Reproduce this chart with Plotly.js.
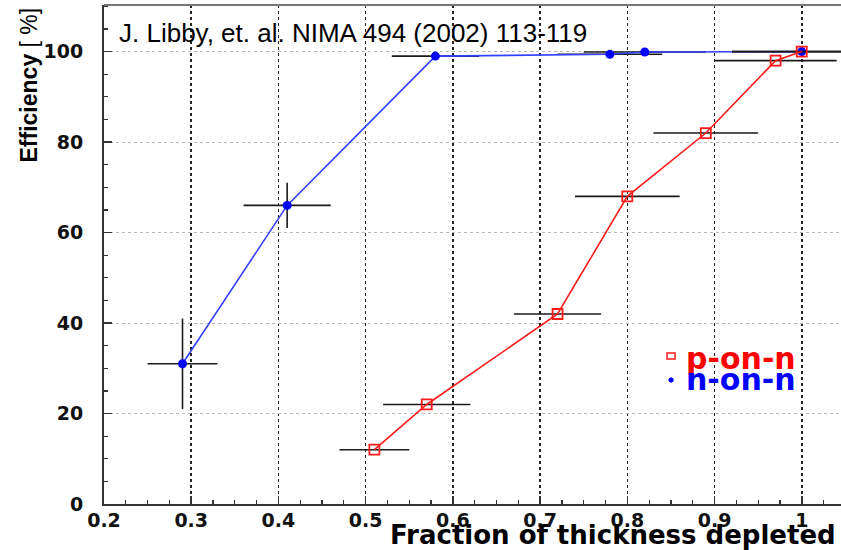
<!DOCTYPE html>
<html>
<head>
<meta charset="utf-8">
<script src="https://cdn.plot.ly/plotly-3.0.1.min.js"></script>
<style>html,body{margin:0;padding:0;background:#fff;}#chart{width:841px;height:550px;}</style>
</head>
<body>
<div id="chart"></div>
<script>
// ---- data ----
const nonnX    = [0.29, 0.41, 0.58, 0.78, 0.82, 1.00];
const nonnY    = [31, 66, 99, 99.4, 99.9, 100];
const nonnXErr = [0.04, 0.05, 0.05, 0.06, 0.07, 0.08];
const nonnYErr = [10, 5, 0, 0, 0, 0];

const ponnX    = [0.51, 0.57, 0.72, 0.80, 0.89, 0.97, 1.00];
const ponnY    = [12, 22, 42, 68, 82, 98, 100];
const ponnXErr = [0.04, 0.05, 0.05, 0.06, 0.06, 0.07, 0.08];

const xTickVals = [0.2, 0.3, 0.4, 0.5, 0.6, 0.7, 0.8, 0.9, 1.0];
const xTickText = ["0.2", "0.3", "0.4", "0.5", "0.6", "0.7", "0.8", "0.9", "1"];
const yTickVals = [0, 20, 40, 60, 80, 100];
const yTickText = ["0", "20", "40", "60", "80", "100"];

const seriesNames = ["p-on-n", "n-on-n"];
const xTitle = "Fraction of thickness depleted";
const yTitleMain = "Efficiency";
const yTitleUnit = "[&nbsp;%]";
const refText = "J. Libby, et. al. NIMA 494 (2002) 113-119";

// ---- traces ----
const traces = [
  {
    type: "scatter", mode: "lines+markers", name: seriesNames[1],
    x: nonnX, y: nonnY,
    line: {color: "#3340ff", width: 1.6},
    marker: {symbol: "circle", size: 9, color: "#0000ff"},
    error_x: {type: "data", array: nonnXErr, visible: true, width: 0, thickness: 1.6, color: "#1a1a1a"},
    error_y: {type: "data", array: nonnYErr, visible: true, width: 0, thickness: 1.6, color: "#1a1a1a"},
    showlegend: false, hoverinfo: "skip"
  },
  {
    type: "scatter", mode: "lines+markers", name: seriesNames[0],
    x: ponnX, y: ponnY,
    line: {color: "#ff1a1a", width: 1.6},
    marker: {symbol: "square-open", size: 10, color: "#ff1a1a", line: {width: 1.8, color: "#ff1a1a"}},
    error_x: {type: "data", array: ponnXErr, visible: true, width: 0, thickness: 1.6, color: "#1a1a1a"},
    showlegend: false, hoverinfo: "skip"
  }
];

const tickFont = {family: "DejaVu Sans", size: 19, weight: "bold", color: "#111"};

const layout = {
  width: 841, height: 550,
  margin: {l: 104, r: 0, t: 5, b: 46, pad: 0},
  paper_bgcolor: "#fff", plot_bgcolor: "#fff",
  font: {family: "DejaVu Sans", size: 19, color: "#111"},
  showlegend: false,
  xaxis: {
    range: [0.2, 1.045],
    tickvals: xTickVals, ticktext: xTickText,
    ticks: "inside", ticklen: 8, tickwidth: 1.5, tickcolor: "#333",
    minor: {dtick: 0.025, tick0: 0.2, ticks: "inside", ticklen: 4, tickwidth: 1.2, tickcolor: "#333", showgrid: false},
    showline: true, linecolor: "#333", linewidth: 2,
    showgrid: true, gridcolor: "#222", griddash: "dot", gridwidth: 1.5,
    zeroline: false, tickfont: tickFont, ticklabelstandoff: -2
  },
  yaxis: {
    range: [0, 110.3],
    tickvals: yTickVals, ticktext: yTickText,
    ticks: "inside", ticklen: 8, tickwidth: 1.5, tickcolor: "#333",
    minor: {dtick: 5, tick0: 0, ticks: "inside", ticklen: 4, tickwidth: 1.2, tickcolor: "#333", showgrid: false},
    showline: true, linecolor: "#333", linewidth: 2,
    showgrid: true, gridcolor: "#bbb", griddash: "dot", gridwidth: 1,
    zeroline: false, tickfont: tickFont, ticklabelstandoff: 15
  },
  shapes: [
    {type: "line", xref: "paper", yref: "paper", x0: 0, x1: 1, y0: 1, y1: 1, line: {color: "#777", width: 2}},
    {type: "rect", xref: "paper", yref: "paper", xsizemode: "pixel", ysizemode: "pixel",
     xanchor: 0.7694, yanchor: 0.2966, x0: -4, x1: 4, y0: -3, y1: 3,
     line: {color: "#ff1a1a", width: 1.5}, fillcolor: "rgba(0,0,0,0)"},
    {type: "circle", xref: "paper", yref: "paper", xsizemode: "pixel", ysizemode: "pixel",
     xanchor: 0.7694, yanchor: 0.2485, x0: -2.2, x1: 2.2, y0: -2.2, y1: 2.2,
     line: {color: "#0000ff", width: 1}, fillcolor: "#0000ff"}
  ],
  annotations: [
    {text: refText, xref: "paper", yref: "paper", x: 0.0176, y: 0.944, xanchor: "left", yanchor: "middle",
     showarrow: false, font: {family: "Liberation Sans, Arial, sans-serif", size: 26, color: "#000"}},
    {text: xTitle, xref: "paper", yref: "paper", x: 0.996, y: -0.062, xanchor: "right", yanchor: "middle",
     showarrow: false, font: {family: "DejaVu Sans, Liberation Sans, sans-serif", size: 26, weight: "bold", color: "#000"}},
    {text: "<b>" + yTitleMain + "</b>&nbsp;<span style=\"font-size:23px\">" + yTitleUnit + "</span>", xref: "paper", yref: "paper", x: -0.1018, y: 1.0,
     xanchor: "center", yanchor: "top", textangle: -90,
     showarrow: false, font: {family: "Liberation Sans Narrow, Liberation Sans, Arial, sans-serif", size: 23, color: "#000"}},
    {text: seriesNames[0], xref: "paper", yref: "paper", x: 0.787, y: 0.291, xanchor: "left", yanchor: "middle",
     showarrow: false, font: {family: "DejaVu Sans, Liberation Sans, sans-serif", size: 30, weight: "bold", color: "#ff0000"}},
    {text: seriesNames[1], xref: "paper", yref: "paper", x: 0.787, y: 0.2495, xanchor: "left", yanchor: "middle",
     showarrow: false, font: {family: "DejaVu Sans, Liberation Sans, sans-serif", size: 30, weight: "bold", color: "#0000ff"}}
  ]
};

Plotly.newPlot("chart", traces, layout, {staticPlot: true, displayModeBar: false});
</script>
</body>
</html>
